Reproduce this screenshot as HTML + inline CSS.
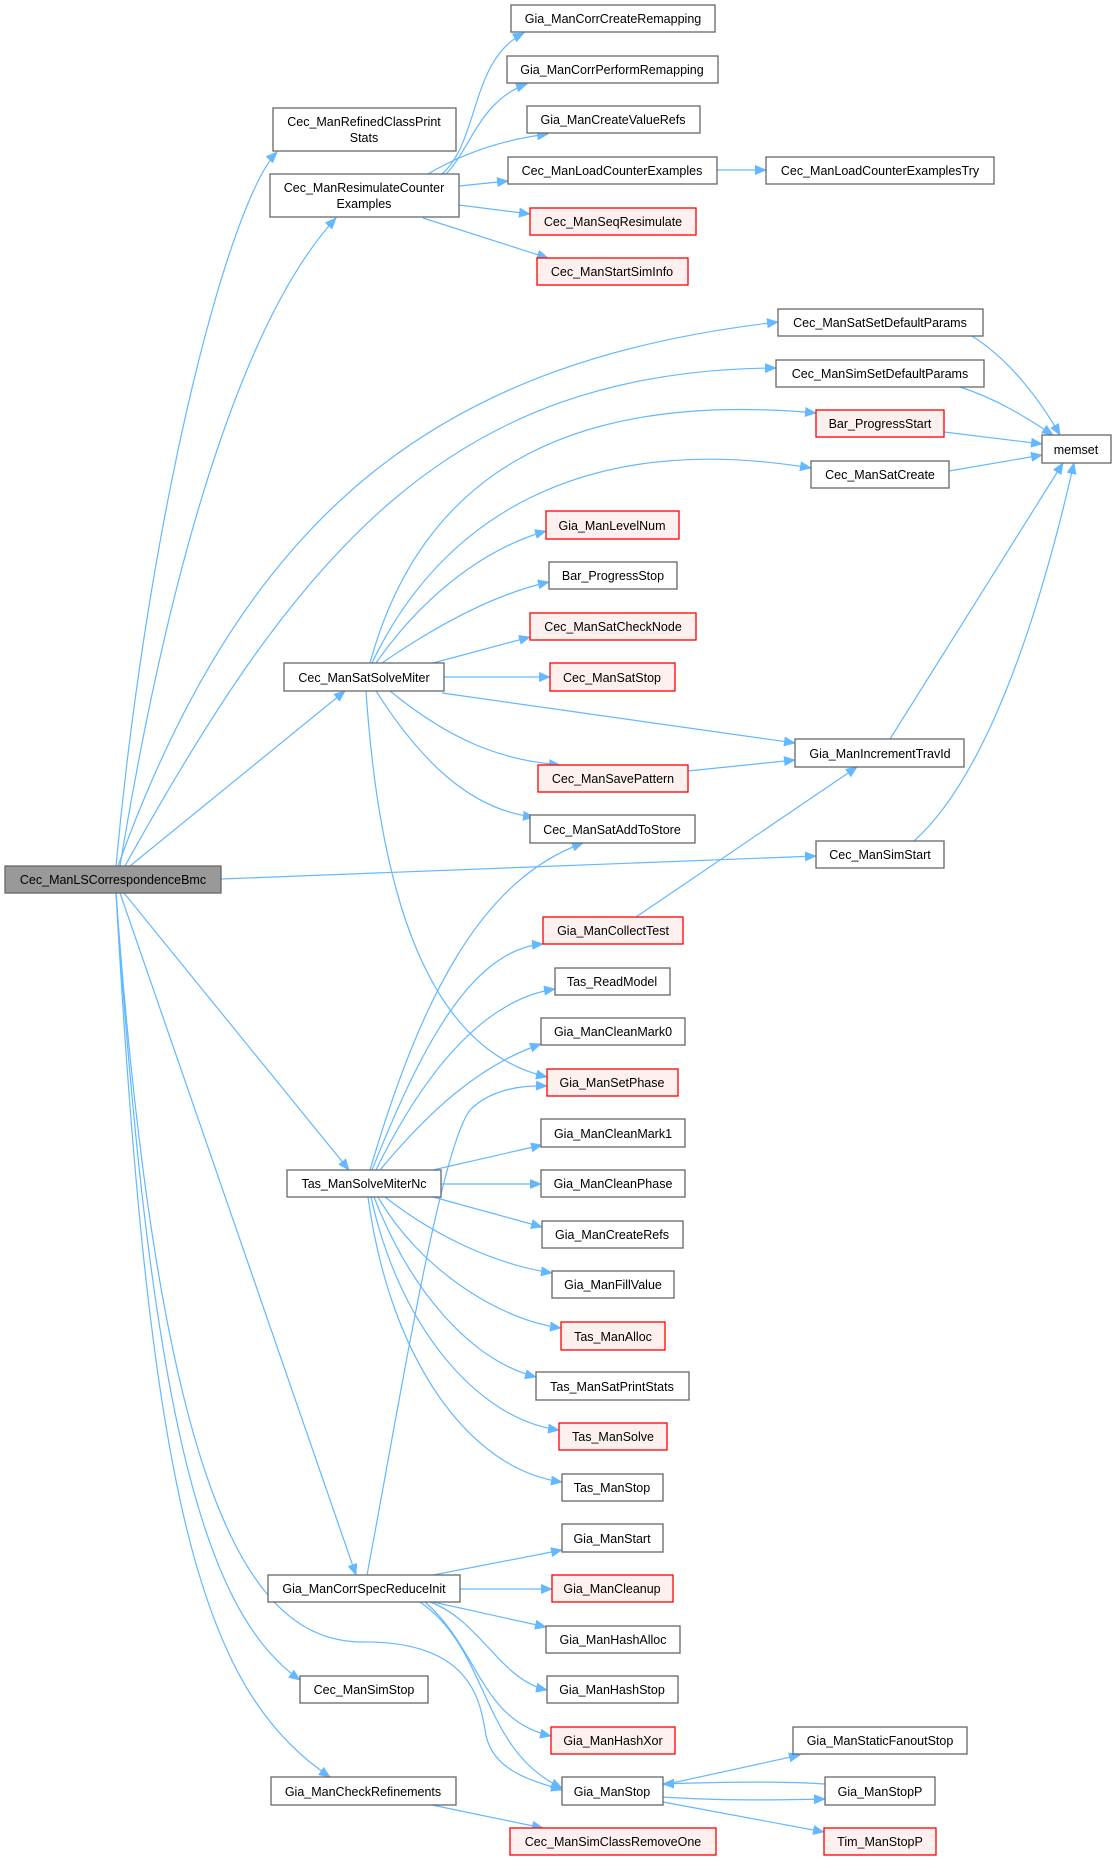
<!DOCTYPE html>
<html><head><meta charset="utf-8"><style>
html,body{margin:0;padding:0;background:#fff;}
svg{display:block;}
text{font-family:"Liberation Sans",Arial,sans-serif;font-size:12.5px;fill:#000;text-anchor:middle;}
.n rect{fill:#fff;stroke:#666;stroke-width:1.3;}
.r rect{fill:#fff0f0;stroke:#f00;stroke-width:1.3;}
.g rect{fill:#999;stroke:#666;stroke-width:1.3;}
path.e{fill:none;stroke:#63b8ff;stroke-width:1.2;marker-end:url(#a);}
</style></head><body>
<svg width="1116" height="1861" viewBox="0 0 1116 1861" xmlns="http://www.w3.org/2000/svg">
<defs><marker id="a" markerUnits="userSpaceOnUse" markerWidth="12" markerHeight="10" refX="11" refY="5" orient="auto"><path d="M0,0 L12,5 L0,10 z" fill="#63b8ff"/></marker></defs>
<g>
<path class="e" d="M116,866 C150,500 230,200 277,152"/>
<path class="e" d="M120,866 C180,500 260,300 336,218"/>
<path class="e" d="M118,866 C250,500 450,360 778,322"/>
<path class="e" d="M125,866 C300,550 450,370 776,368"/>
<path class="e" d="M130,866 L345,691"/>
<path class="e" d="M221,879 L816,856"/>
<path class="e" d="M124,893 L349,1170"/>
<path class="e" d="M120,893 L356,1575"/>
<path class="e" d="M116,893 C150,1400 200,1610 300,1680"/>
<path class="e" d="M116,893 C150,1500 200,1690 330,1777"/>
<path class="e" d="M116,893 C160,1500 250,1640 360,1642 C470,1640 480,1700 485,1730 C490,1770 530,1780 562,1790"/>
<path class="e" d="M442,174 C480,140 470,60 524,33"/>
<path class="e" d="M446,174 C470,150 480,100 527,84"/>
<path class="e" d="M428,174 C460,155 500,140 548,134"/>
<path class="e" d="M459,186 L508,181"/>
<path class="e" d="M459,205 L530,214"/>
<path class="e" d="M423,218 L548,258"/>
<path class="e" d="M717,170 L766,170"/>
<path class="e" d="M972,336 C1010,360 1040,400 1060,435"/>
<path class="e" d="M960,387 C1000,400 1030,420 1053,435"/>
<path class="e" d="M944,432 L1042,444"/>
<path class="e" d="M949,471 L1042,455"/>
<path class="e" d="M890,739 L1063,463"/>
<path class="e" d="M914,841 C960,800 1020,700 1074,463"/>
<path class="e" d="M370,663 C420,480 560,390 816,413"/>
<path class="e" d="M372,663 C440,520 580,430 811,468"/>
<path class="e" d="M376,663 C420,600 480,550 546,531"/>
<path class="e" d="M382,663 C430,630 490,595 549,582"/>
<path class="e" d="M433,663 L530,637"/>
<path class="e" d="M444,677 L550,677"/>
<path class="e" d="M442,693 L795,743"/>
<path class="e" d="M390,691 C450,740 500,760 560,765"/>
<path class="e" d="M376,691 C420,760 470,810 534,817"/>
<path class="e" d="M366,691 C380,900 430,1050 547,1077"/>
<path class="e" d="M688,771 L795,760"/>
<path class="e" d="M636,917 L857,767"/>
<path class="e" d="M370,1170 C420,1000 480,880 583,843"/>
<path class="e" d="M372,1170 C420,1050 470,950 543,944"/>
<path class="e" d="M376,1170 C420,1080 480,1000 555,989"/>
<path class="e" d="M380,1170 C430,1110 480,1065 541,1044"/>
<path class="e" d="M433,1170 L542,1145"/>
<path class="e" d="M441,1184 L541,1184"/>
<path class="e" d="M433,1197 L542,1227"/>
<path class="e" d="M385,1197 C440,1240 500,1265 552,1273"/>
<path class="e" d="M378,1197 C420,1270 500,1320 561,1328"/>
<path class="e" d="M374,1197 C410,1290 470,1360 536,1377"/>
<path class="e" d="M371,1197 C400,1330 480,1420 559,1430"/>
<path class="e" d="M368,1197 C390,1360 470,1470 562,1482"/>
<path class="e" d="M367,1575 C400,1400 440,1150 470,1110 C490,1090 520,1085 547,1086"/>
<path class="e" d="M433,1575 L562,1550"/>
<path class="e" d="M460,1589 L552,1589"/>
<path class="e" d="M433,1602 L546,1627"/>
<path class="e" d="M430,1602 C480,1620 500,1680 547,1690"/>
<path class="e" d="M425,1602 C480,1650 480,1720 551,1736"/>
<path class="e" d="M420,1602 C490,1650 480,1750 562,1788"/>
<path class="e" d="M432,1805 L543,1828"/>
<path class="e" d="M663,1785 L800,1755"/>
<path class="e" d="M825,1784 C780,1781 720,1782 663,1784"/>
<path class="e" d="M663,1797 C720,1801 780,1800 825,1799"/>
<path class="e" d="M663,1802 L824,1832"/>
</g>
<g class="n"><rect x="511" y="5" width="204" height="27"/><text x="613" y="23">Gia_ManCorrCreateRemapping</text></g>
<g class="n"><rect x="507" y="56" width="211" height="27"/><text x="612" y="74">Gia_ManCorrPerformRemapping</text></g>
<g class="n"><rect x="527" y="106" width="173" height="27"/><text x="613" y="124">Gia_ManCreateValueRefs</text></g>
<g class="n"><rect x="273" y="108" width="183" height="43"/><text x="364" y="126">Cec_ManRefinedClassPrint</text><text x="364" y="142">Stats</text></g>
<g class="n"><rect x="270" y="174" width="189" height="43"/><text x="364" y="192">Cec_ManResimulateCounter</text><text x="364" y="208">Examples</text></g>
<g class="n"><rect x="508" y="157" width="209" height="27"/><text x="612" y="175">Cec_ManLoadCounterExamples</text></g>
<g class="n"><rect x="766" y="157" width="228" height="27"/><text x="880" y="175">Cec_ManLoadCounterExamplesTry</text></g>
<g class="r"><rect x="530" y="208" width="166" height="27"/><text x="613" y="226">Cec_ManSeqResimulate</text></g>
<g class="r"><rect x="537" y="258" width="151" height="27"/><text x="612" y="276">Cec_ManStartSimInfo</text></g>
<g class="n"><rect x="778" y="309" width="205" height="27"/><text x="880" y="327">Cec_ManSatSetDefaultParams</text></g>
<g class="n"><rect x="776" y="360" width="208" height="27"/><text x="880" y="378">Cec_ManSimSetDefaultParams</text></g>
<g class="r"><rect x="816" y="410" width="128" height="27"/><text x="880" y="428">Bar_ProgressStart</text></g>
<g class="n"><rect x="1042" y="435" width="69" height="28"/><text x="1076" y="454">memset</text></g>
<g class="n"><rect x="811" y="461" width="138" height="27"/><text x="880" y="479">Cec_ManSatCreate</text></g>
<g class="r"><rect x="546" y="511" width="133" height="28"/><text x="612" y="530">Gia_ManLevelNum</text></g>
<g class="n"><rect x="549" y="562" width="128" height="27"/><text x="613" y="580">Bar_ProgressStop</text></g>
<g class="r"><rect x="530" y="613" width="166" height="27"/><text x="613" y="631">Cec_ManSatCheckNode</text></g>
<g class="n"><rect x="284" y="663" width="160" height="28"/><text x="364" y="682">Cec_ManSatSolveMiter</text></g>
<g class="r"><rect x="550" y="663" width="125" height="28"/><text x="612" y="682">Cec_ManSatStop</text></g>
<g class="n"><rect x="795" y="739" width="169" height="28"/><text x="880" y="758">Gia_ManIncrementTravId</text></g>
<g class="r"><rect x="538" y="765" width="150" height="27"/><text x="613" y="783">Cec_ManSavePattern</text></g>
<g class="n"><rect x="530" y="815" width="165" height="28"/><text x="612" y="834">Cec_ManSatAddToStore</text></g>
<g class="n"><rect x="816" y="841" width="128" height="27"/><text x="880" y="859">Cec_ManSimStart</text></g>
<g class="g"><rect x="5" y="866" width="216" height="27"/><text x="113" y="884">Cec_ManLSCorrespondenceBmc</text></g>
<g class="r"><rect x="543" y="917" width="140" height="27"/><text x="613" y="935">Gia_ManCollectTest</text></g>
<g class="n"><rect x="555" y="968" width="115" height="27"/><text x="612" y="986">Tas_ReadModel</text></g>
<g class="n"><rect x="541" y="1018" width="144" height="27"/><text x="613" y="1036">Gia_ManCleanMark0</text></g>
<g class="r"><rect x="547" y="1069" width="131" height="27"/><text x="612" y="1087">Gia_ManSetPhase</text></g>
<g class="n"><rect x="541" y="1119" width="144" height="28"/><text x="613" y="1138">Gia_ManCleanMark1</text></g>
<g class="n"><rect x="287" y="1170" width="154" height="27"/><text x="364" y="1188">Tas_ManSolveMiterNc</text></g>
<g class="n"><rect x="541" y="1170" width="144" height="27"/><text x="613" y="1188">Gia_ManCleanPhase</text></g>
<g class="n"><rect x="542" y="1221" width="141" height="27"/><text x="612" y="1239">Gia_ManCreateRefs</text></g>
<g class="n"><rect x="552" y="1271" width="122" height="27"/><text x="613" y="1289">Gia_ManFillValue</text></g>
<g class="r"><rect x="561" y="1322" width="104" height="28"/><text x="613" y="1341">Tas_ManAlloc</text></g>
<g class="n"><rect x="536" y="1372" width="153" height="28"/><text x="612" y="1391">Tas_ManSatPrintStats</text></g>
<g class="r"><rect x="559" y="1423" width="108" height="27"/><text x="613" y="1441">Tas_ManSolve</text></g>
<g class="n"><rect x="562" y="1474" width="101" height="27"/><text x="612" y="1492">Tas_ManStop</text></g>
<g class="n"><rect x="562" y="1524" width="101" height="28"/><text x="612" y="1543">Gia_ManStart</text></g>
<g class="n"><rect x="268" y="1575" width="192" height="27"/><text x="364" y="1593">Gia_ManCorrSpecReduceInit</text></g>
<g class="r"><rect x="552" y="1575" width="121" height="27"/><text x="612" y="1593">Gia_ManCleanup</text></g>
<g class="n"><rect x="546" y="1626" width="134" height="27"/><text x="613" y="1644">Gia_ManHashAlloc</text></g>
<g class="n"><rect x="300" y="1676" width="128" height="27"/><text x="364" y="1694">Cec_ManSimStop</text></g>
<g class="n"><rect x="547" y="1676" width="131" height="27"/><text x="612" y="1694">Gia_ManHashStop</text></g>
<g class="r"><rect x="551" y="1727" width="124" height="27"/><text x="613" y="1745">Gia_ManHashXor</text></g>
<g class="n"><rect x="793" y="1727" width="174" height="27"/><text x="880" y="1745">Gia_ManStaticFanoutStop</text></g>
<g class="n"><rect x="271" y="1777" width="185" height="28"/><text x="363" y="1796">Gia_ManCheckRefinements</text></g>
<g class="n"><rect x="562" y="1777" width="101" height="28"/><text x="612" y="1796">Gia_ManStop</text></g>
<g class="n"><rect x="825" y="1777" width="110" height="28"/><text x="880" y="1796">Gia_ManStopP</text></g>
<g class="r"><rect x="510" y="1828" width="206" height="27"/><text x="613" y="1846">Cec_ManSimClassRemoveOne</text></g>
<g class="r"><rect x="824" y="1828" width="112" height="27"/><text x="880" y="1846">Tim_ManStopP</text></g>
</svg>
</body></html>
